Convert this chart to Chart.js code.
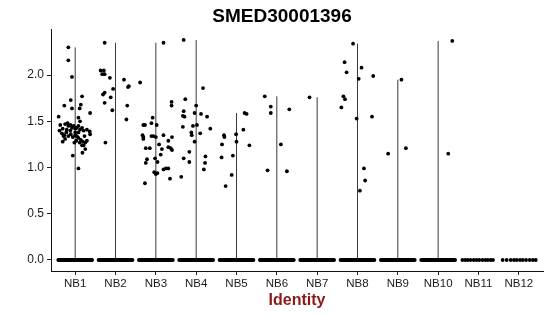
<!DOCTYPE html>
<html>
<head>
<meta charset="utf-8">
<script src="https://cdn.jsdelivr.net/npm/chart.js@4"></script>
<style>
  html, body { margin: 0; padding: 0; background: #fff; }
</style>
</head>
<body>
<canvas id="vln" width="550" height="316"></canvas>
<script>
const categories = ['NB1', 'NB2', 'NB3', 'NB4', 'NB5', 'NB6', 'NB7', 'NB8', 'NB9', 'NB10', 'NB11', 'NB12'];
const yTicks = [0, 0.5, 1, 1.5, 2];

// expressing cells per cluster: [jitter offset, expression]
const exprNB1 = [[-0.17,2.30],[-0.17,2.16],[-0.08,1.98],[0.17,1.77],[-0.11,1.73],[-0.27,1.67],[-0.08,1.64],[0.14,1.68],[0.11,1.64],[0.37,1.59],[-0.41,1.55],[0.08,1.54],[0.12,1.50],
  [-0.37,1.46],[-0.31,1.42],[-0.25,1.47],[-0.19,1.48],[-0.17,1.45],[-0.12,1.46],[-0.08,1.43],[-0.04,1.45],[0,1.42],[0.04,1.43],[0.08,1.45],[0.12,1.41],[0.17,1.43],[0.21,1.40],[0.29,1.41],[0.36,1.39],
  [-0.39,1.40],[-0.33,1.37],[-0.27,1.35],[-0.22,1.38],[-0.17,1.34],[-0.11,1.36],[-0.06,1.33],[0,1.35],[0.04,1.34],[0.08,1.32],[0.14,1.30],[0.19,1.28],[0.25,1.27],[0.29,1.29],
  [-0.31,1.28],[-0.25,1.31],[-0.02,1.27],[0.025,1.29],[0.11,1.27],[0.17,1.24],[0.21,1.24],[0.37,1.36],[-0.12,1.40],[-0.21,1.41],[0,1.38],[0.08,1.38],[-0.29,1.34],[0.23,1.34],
  [-0.06,1.13],[0.18,1.16],[0.25,1.20],[0.08,0.99]];
const exprNB2 = [[-0.27,2.35],[-0.37,2.05],[-0.29,2.05],[-0.33,2.01],[-0.27,2.01],[-0.14,1.97],[-0.06,1.85],[-0.31,1.79],[-0.27,1.81],[-0.12,1.76],[-0.27,1.70],[-0.08,1.62],[-0.25,1.27],[0.21,1.95],[0.31,1.87],[0.33,1.88],[0.29,1.67],[0.27,1.52]];
const exprNB3 = [[0.19,2.35],[-0.39,1.92],[0.39,1.71],[0.39,1.67],[-0.08,1.54],[-0.31,1.46],[-0.27,1.46],[-0.11,1.48],[0.02,1.46],[-0.33,1.35],[-0.31,1.31],[-0.31,1.33],[-0.11,1.34],[-0.06,1.34],[0,1.33],[0.19,1.35],[0.40,1.33],[0.31,1.29],[0.08,1.25],
  [-0.25,1.21],[-0.15,1.21],[0.15,1.20],[0.31,1.22],[0.37,1.21],[0.40,1.19],[0.12,1.14],[-0.22,1.09],[-0.25,1.05],[-0.02,1.10],[0.04,1.06],[0.19,0.98],[0.25,0.99],[0.31,0.99],[-0.04,0.95],[0,0.93],[0.04,0.94],[0.35,0.88],[-0.27,0.83]];
const exprNB4 = [[-0.31,2.38],[0.17,1.86],[-0.27,1.74],[0,1.67],[-0.31,1.61],[-0.33,1.56],[-0.29,1.55],[-0.04,1.59],[0.12,1.58],[0.27,1.55],[-0.33,1.44],[-0.08,1.45],[0.02,1.46],[0.35,1.42],[-0.12,1.38],[-0.11,1.35],[0.10,1.37],[-0.04,1.28],[-0.17,1.17],[-0.31,1.10],[0.23,1.12],[0.22,1.05],[-0.17,1.06],[0.19,0.98],[-0.37,0.90]];
const exprNB5 = [[0.20,1.59],[0.25,1.58],[0.17,1.41],[-0.01,1.36],[0,1.28],[-0.31,1.35],[-0.30,1.33],[-0.36,1.25],[0.32,1.24],[-0.09,1.13],[-0.37,1.11],[-0.12,0.92],[-0.27,0.80]];
const exprNB6 = [[-0.30,1.77],[-0.15,1.66],[-0.15,1.59],[0.31,1.63],[0.10,1.25],[-0.23,0.97],[0.25,0.96]];
const exprNB7 = [[-0.19,1.76]];
const exprNB8 = [[-0.11,2.34],[-0.32,2.14],[-0.27,2.03],[0.10,2.08],[0.03,1.96],[0.39,1.99],[-0.35,1.77],[-0.31,1.74],[-0.40,1.65],[-0.02,1.53],[0.36,1.55],[0.16,0.99],[0.19,0.86],[0.06,0.75]];
const exprNB9 = [[0.09,1.95],[-0.24,1.15],[0.20,1.21]];
const exprNB10 = [[0.35,2.37],[0.25,1.15]];
const exprNB11 = [];
const exprNB12 = [];
const exprByCluster = [exprNB1, exprNB2, exprNB3, exprNB4, exprNB5, exprNB6, exprNB7, exprNB8, exprNB9, exprNB10, exprNB11, exprNB12];

// zero-expression cells: NB1-NB10 are so many they merge into a band,
// NB11 and NB12 have few enough to see single dots (jitter offsets)
const zeroBandClusters = ['NB1', 'NB2', 'NB3', 'NB4', 'NB5', 'NB6', 'NB7', 'NB8', 'NB9', 'NB10'];
const zeroNB11 = [-0.40, -0.33, -0.27, -0.20, -0.12, -0.05, 0.02, 0.10, 0.17, 0.23, 0.30, 0.36];
const zeroNB12 = [-0.40, -0.30, -0.20, -0.12, -0.05, 0.03, 0.10, 0.18, 0.27, 0.35, 0.42];

const FONT = '"Liberation Sans", Arial, sans-serif';
const BAND_HALF = 0.42;

const jitterPoints = [];
exprByCluster.forEach((cells, i) => {
    cells.forEach(([j, v]) => jitterPoints.push({ x: i + 1 + j, y: v }));
});
zeroNB11.forEach(j => jitterPoints.push({ x: categories.indexOf('NB11') + 1 + j, y: 0 }));
zeroNB12.forEach(j => jitterPoints.push({ x: categories.indexOf('NB12') + 1 + j, y: 0 }));

const datasets = [{
    data: jitterPoints,
    pointRadius: 1.9,
    pointBorderWidth: 0,
    pointBackgroundColor: '#000',
    showLine: false,
    order: 0
}];

zeroBandClusters.forEach(name => {
    const c = categories.indexOf(name) + 1;
    datasets.push({
        data: [{ x: c - BAND_HALF, y: 0 }, { x: c + BAND_HALF, y: 0 }],
        showLine: true,
        borderColor: '#000',
        borderWidth: 3.8,
        borderCapStyle: 'round',
        pointRadius: 0,
        order: 1
    });
});

// violins collapse to thin lines from 0 up to the cluster max
exprByCluster.forEach((cells, i) => {
    if (!cells.length) return;
    const top = Math.max(...cells.map(p => p[1]));
    datasets.push({
        data: [{ x: i + 1, y: 0 }, { x: i + 1, y: top }],
        showLine: true,
        borderColor: '#3a3a3a',
        borderWidth: 1,
        pointRadius: 0,
        order: 2
    });
});

new Chart(document.getElementById('vln'), {
    type: 'scatter',
    data: { datasets: datasets },
    options: {
        responsive: false,
        animation: false,
        devicePixelRatio: 1,
        layout: { padding: { left: 21, right: 7, top: 0, bottom: 0 } },
        plugins: {
            legend: { display: false },
            tooltip: { enabled: false },
            title: {
                display: true,
                text: 'SMED30001396',
                color: '#000',
                font: { family: FONT, size: 19, weight: 'bold' },
                padding: { top: 5, bottom: 2 }
            }
        },
        scales: {
            x: {
                type: 'linear',
                min: 0.4,
                max: 12.6,
                afterBuildTicks: scale => { scale.ticks = categories.map((c, i) => ({ value: i + 1 })); },
                afterFit: scale => { scale.height = 45; },
                ticks: {
                    autoSkip: false,
                    maxRotation: 0,
                    padding: 2,
                    color: '#1a1a1a',
                    font: { family: FONT, size: 11.5 },
                    callback: v => categories[v - 1]
                },
                grid: { drawOnChartArea: false, tickLength: 4, color: '#222' },
                border: { color: '#111', width: 1 },
                title: {
                    display: true,
                    text: 'Identity',
                    color: '#8B1A1A',
                    font: { family: FONT, size: 16, weight: 'bold' },
                    padding: { top: 0, bottom: 6 }
                }
            },
            y: {
                min: -0.119,
                max: 2.49,
                afterBuildTicks: scale => { scale.ticks = yTicks.map(v => ({ value: v })); },
                afterFit: scale => { scale.width = 30; },
                ticks: {
                    padding: 3,
                    color: '#1a1a1a',
                    font: { family: FONT, size: 12 },
                    callback: v => v.toFixed(1)
                },
                grid: { drawOnChartArea: false, tickLength: 4, color: '#222' },
                border: { color: '#111', width: 1 }
            }
        }
    }
});
</script>
</body>
</html>
